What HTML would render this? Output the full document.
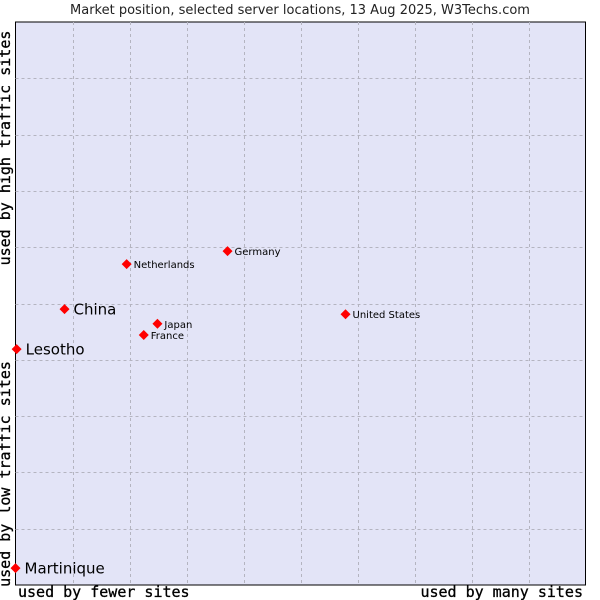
<!DOCTYPE html>
<html><head><meta charset="utf-8"><style>
body{margin:0;background:#fff;}
svg{display:block;}
</style></head><body>
<svg id="chart" width="600" height="600" xmlns="http://www.w3.org/2000/svg">
<text x="300" y="14" text-anchor="middle" font-family="DejaVu Sans, sans-serif" font-size="13" fill="#222">Market position, selected server locations, 13 Aug 2025, W3Techs.com</text>
<rect x="15.5" y="22" width="570" height="563" fill="#e3e4f7" stroke="#000" stroke-width="1"/>
<g id="grid"></g>
<g id="points"></g>
<text x="6" y="144" transform="rotate(-90 10 144)" text-anchor="middle" font-family="DejaVu Sans Mono, monospace" font-size="15" fill="#000" stroke="#000" stroke-width="0.3">used by high traffic sites</text>
<text x="6" y="470" transform="rotate(-90 10 470)" text-anchor="middle" font-family="DejaVu Sans Mono, monospace" font-size="15" fill="#000" stroke="#000" stroke-width="0.3">used by low traffic sites</text>
<text x="18" y="597" font-family="DejaVu Sans Mono, monospace" font-size="15" fill="#000" stroke="#000" stroke-width="0.3">used by fewer sites</text>
<text x="583" y="597" text-anchor="end" font-family="DejaVu Sans Mono, monospace" font-size="15" fill="#000" stroke="#000" stroke-width="0.3">used by many sites</text>
</svg>
<script>
const names=["Lesotho","China","Netherlands","Germany","Japan","France","United States","Martinique"];
const xVals=[0.02,0.86,1.95,3.72,2.49,2.25,5.79,0.0];
const yVals=[4.19,4.9,5.7,5.93,4.64,4.44,4.81,0.3];
const big=[true,true,false,false,false,false,false,true];
const L=15.5,T=22,W=570,H=563;
const sx=v=>L+v/10*W, sy=v=>T+H-v/10*H;
const NS="http://www.w3.org/2000/svg";
const g=document.getElementById('grid');
for(let i=1;i<10;i++){
  const v=document.createElementNS(NS,'line');
  v.setAttribute('x1',Math.round(sx(i))+0.5);v.setAttribute('x2',Math.round(sx(i))+0.5);
  v.setAttribute('y1',T);v.setAttribute('y2',T+H);
  v.setAttribute('stroke','#b4b4c0');v.setAttribute('stroke-dasharray','3,3');
  
  
  g.appendChild(v);
  const h=document.createElementNS(NS,'line');
  h.setAttribute('y1',Math.round(sy(i))+0.5);h.setAttribute('y2',Math.round(sy(i))+0.5);
  h.setAttribute('x1',L);h.setAttribute('x2',L+W);
  h.setAttribute('stroke','#b4b4c0');h.setAttribute('stroke-dasharray','3,3');
  
  
  g.appendChild(h);
}
const p=document.getElementById('points');
names.forEach((n,i)=>{
  const x=sx(xVals[i]),y=sy(yVals[i]);
  const d=document.createElementNS(NS,'polygon');
  d.setAttribute('points',`${x-5},${y} ${x},${y-5} ${x+5},${y} ${x},${y+5}`);
  d.setAttribute('fill','#f00');
  
  
  p.appendChild(d);
  const t=document.createElementNS(NS,'text');
  t.setAttribute('x',x+(big[i]?9:7));
  t.setAttribute('y',y+(big[i]?5.5:4));
  t.setAttribute('font-family','DejaVu Sans, sans-serif');
  t.setAttribute('font-size',big[i]?15:10);
  t.setAttribute('fill','#000');
  t.textContent=n;
  
  
  p.appendChild(t);
});
</script>
</body></html>
